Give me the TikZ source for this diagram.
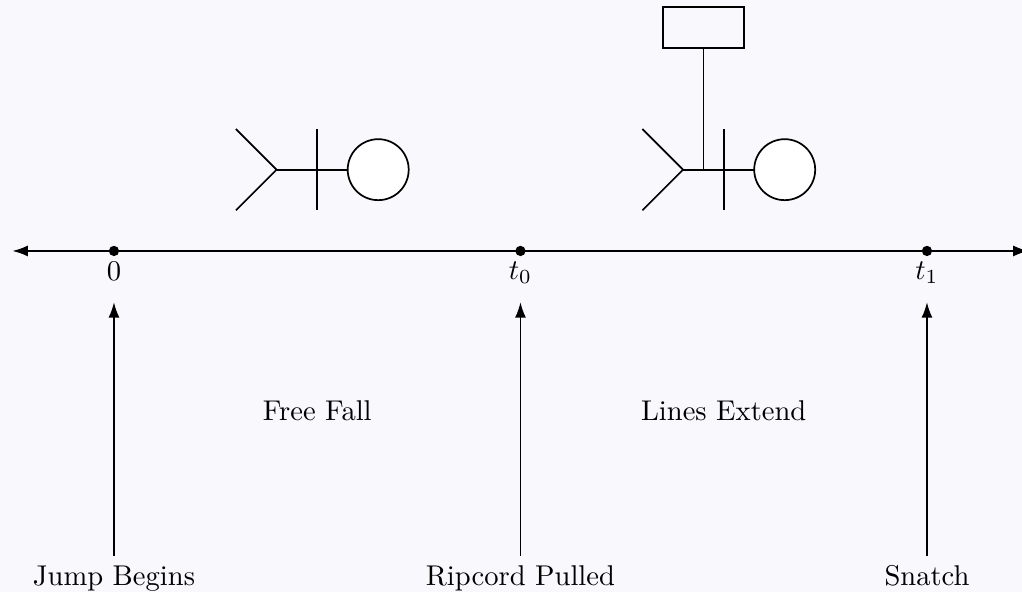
\documentclass[tikz,border=0pt]{standalone}
\usetikzlibrary{arrows.meta}
\definecolor{bgcol}{HTML}{F8F8FD}
\begin{document}
\begin{tikzpicture}[
  line width=0.6pt,
  tip/.tip={Latex[length=1.9mm,width=1.35mm]},
  dot/.style={circle,fill=black,inner sep=0pt,minimum size=3.6pt},
  ticklabel/.style={below,inner sep=1.5pt},
  eventlabel/.style={anchor=base,text height=7pt,text depth=2pt,inner sep=3.3pt},
  uparrow/.style={-tip},
  jumper/.pic={
    % legs, body, arms and head of the jumper
    \draw (-0.5,0.5) -- (0,0) -- (-0.5,-0.5);
    \draw (0,0) -- (0.875,0);
    \draw (0.5,0.5) -- (0.5,-0.5);
    \draw[fill=white] (1.25,0) circle (0.375);
  }
]
\useasboundingbox[fill=bgcol] (-1.402,-4.194) rectangle (11.169,3.087);

% time axis
\draw[tip-tip] (-1.25,0) -- (11.25,0);
\node[dot] (p0) at (0,0) {};
\node[dot] (p1) at (5,0) {};
\node[dot] (p2) at (10,0) {};
\node[ticklabel] (l0) at (p0.south) {$0$};
\node[ticklabel] (l1) at (p1.south) {$t_0$};
\node[ticklabel] (l2) at (p2.south) {$t_1$};

% events
\node[eventlabel] (e0) at (0,-4.12) {Jump Begins};
\node[eventlabel] (e1) at (5,-4.12) {Ripcord Pulled};
\node[eventlabel] (e2) at (10,-4.12) {Snatch};
\draw[uparrow] (e0.north) -- (0,-0.63);
\draw[uparrow] (e1.north) -- (5,-0.63);
\draw[uparrow] (e2.north) -- (10,-0.63);

% phases
\node (ff) at (2.5,-1.96) {Free Fall};
\node (le) at (7.5,-1.96) {Lines Extend};

% jumper in free fall
\pic at (2,1) {jumper};

% jumper with lines extending to the canopy
\pic at (7,1) {jumper};
\node[draw,minimum width=1cm,minimum height=0.5cm,inner sep=0pt,line width=0.6pt] (canopy) at (7.25,2.75) {};
\draw (7.25,1) -- (canopy.south);
\end{tikzpicture}
\end{document}
